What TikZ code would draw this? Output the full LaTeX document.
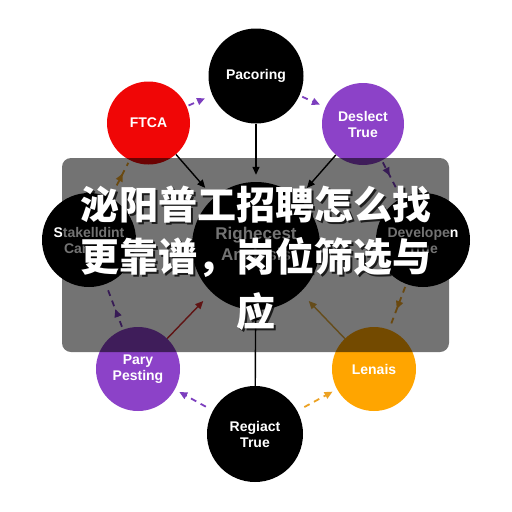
\documentclass[tikz,border=0pt]{standalone}
\usepackage{fontspec}
\setmainfont{Liberation Sans}
\newfontfamily\cjk{Noto Sans CJK SC}
\usetikzlibrary{arrows.meta,decorations.markings}
\definecolor{cred}{RGB}{240,6,6}
\definecolor{cpur}{RGB}{140,66,200}
\definecolor{corg}{RGB}{255,165,0}
\definecolor{apur}{RGB}{124,62,190}
\definecolor{aorg}{RGB}{236,162,36}
\definecolor{ared}{RGB}{215,45,45}
\definecolor{agold}{RGB}{225,170,60}
\begin{document}
\begin{tikzpicture}[x=1pt,y=-1pt,
  circ/.style={circle, inner sep=0pt, text=white, align=center,
    font=\fontsize{14}{16}\selectfont\bfseries},
  tip/.style={-{Triangle[length=8pt,width=7pt]}},
  link/.style={line width=1.4pt, tip},
  dlink/.style={line width=1.8pt, dash pattern=on 6pt off 5pt},
  midarrow/.style={postaction={decorate}, decoration={markings,
    mark=at position #1 with {\arrow{Triangle[length=8pt,width=7pt]}}}},
  cjkline/.style={text=white, font=\cjk\bfseries\fontsize{39}{44}\selectfont, inner sep=0pt},
  cjkshadow/.style={text=black, opacity=0.75, font=\cjk\bfseries\fontsize{39}{44}\selectfont, inner sep=0pt}
]
\useasboundingbox (0,0) rectangle (512,512);
\fill[white] (0,0) rectangle (512,512);

% circles
\node[circ, fill=black, minimum size=95pt] (pac) at (256,76) {Pacoring};
\node[circ, fill=cred, minimum size=83pt] (ftca) at (148.5,123) {FTCA};
\node[circ, fill=cpur, minimum size=82pt] (des) at (363,124) {Deslect\\True};
\node[circ, fill=black, minimum size=94pt] (stk) at (89,240) {Stakelldint\\Canvas};
\node[circ, fill=black, minimum size=128pt, font=\fontsize{17}{21}\selectfont\bfseries] (cen) at (256,246) {Righecest\\Analysis};
\node[circ, fill=black, minimum size=94pt] (dev) at (423,240) {Developen\\True};
\node[circ, fill=cpur, minimum size=84pt] (pary) at (138,369) {Pary\\Pesting};
\node[circ, fill=corg, minimum size=84pt] (len) at (374,369) {Lenais};
\node[circ, fill=black, minimum size=96pt] (reg) at (255,434) {Regiact\\True};

% solid links to centre
\draw[link, black, shorten >=7pt] (pac) -- (cen);
\draw[link, black, shorten >=13pt] (ftca) -- (cen);
\draw[link, black, shorten >=13pt] (des) -- (cen);
\draw[link, ared, shorten >=12pt] (pary) -- (cen);
\draw[link, agold, shorten >=12pt] (len) -- (cen);
\draw[link, black, shorten >=2pt] (reg) -- (cen);

% dashed ring
\draw[dlink, apur, tip, shorten <=2pt, shorten >=8pt] (ftca) -- (pac);
\draw[dlink, apur, tip, shorten <=3pt, shorten >=6pt] (pac) -- (des);
\draw[dlink, apur, midarrow=0.4, shorten <=2pt, shorten >=3pt] (des) -- (dev);
\draw[dlink, aorg, midarrow=0.55, shorten <=3pt, shorten >=2pt] (dev) -- (len);
\draw[dlink, aorg, tip, shorten <=8pt, shorten >=5pt] (reg) -- (len);
\draw[dlink, apur, tip, shorten <=8pt, shorten >=5pt] (reg) -- (pary);
\draw[dlink, apur, midarrow=0.45, shorten <=3pt, shorten >=3pt] (pary) -- (stk);
\draw[dlink, aorg, midarrow=0.65, shorten <=3pt, shorten >=3pt] (stk) -- (ftca);

% overlay
\fill[black, opacity=0.55, rounded corners=9pt] (62,158) rectangle (449,352);

% title text
\node[cjkshadow] (s1) at (258,207) {泌阳普工招聘怎么找};
\node[cjkshadow] (s2) at (258,259) {更靠谱，岗位筛选与};
\node[cjkshadow] (s3) at (258,314) {应};
\node[cjkline] (t1) at (256,205) {泌阳普工招聘怎么找};
\node[cjkline] (t2) at (256,257) {更靠谱，岗位筛选与};
\node[cjkline] (t3) at (256,312) {应};
\end{tikzpicture}
\end{document}
